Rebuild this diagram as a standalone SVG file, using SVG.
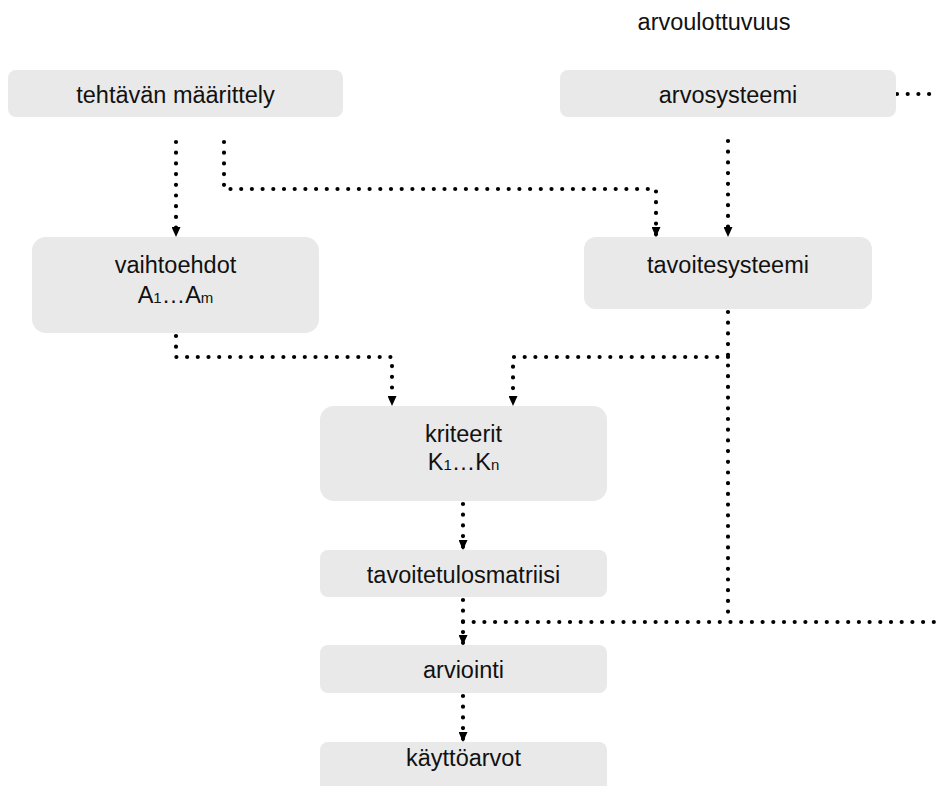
<svg xmlns="http://www.w3.org/2000/svg" width="939" height="786" viewBox="0 0 939 786">
  <defs>
    <marker id="arrow" viewBox="0 0 10 9" refX="10" refY="4.5" markerWidth="10" markerHeight="9" markerUnits="userSpaceOnUse" orient="auto">
      <path d="M0,0 L10,4.5 L0,9 z" fill="#000"/>
    </marker>
    <style>
      .box { fill: #e9e9e9; }
      .lbl { font-family: "Liberation Sans", Arial, sans-serif; font-size: 23.5px; fill: #111; text-anchor: middle; }
      .sub { font-size: 15px; }
      .dots { fill: none; stroke: #000; stroke-width: 4.2; stroke-linecap: round; stroke-dasharray: 0 10.7; }
      .arr { marker-end: url(#arrow); }
    </style>
  </defs>
  <rect width="939" height="786" fill="#fff"/>

  <text class="lbl" x="714" y="30">arvoulottuvuus</text>

  <g id="connectors">
    <path class="dots arr" d="M176 142 V237"/>
    <path class="dots arr" d="M224 142 V189 H656 V237"/>
    <path class="dots arr" d="M728 141 V237"/>
    <path class="dots" d="M897 94 H939"/>
    <path class="dots arr" d="M176 336 V357 H392 V406"/>
    <path class="dots" d="M728 312 V622"/>
    <path class="dots arr" d="M728 357 H513 V406"/>
    <path class="dots arr" d="M463 504 V550"/>
    <path class="dots arr" d="M463 600 V645"/>
    <path class="dots" d="M463 622 H939"/>
    <path class="dots arr" d="M463 696 V742"/>
  </g>

  <g id="tehtavan-maarittely">
    <rect class="box" x="8" y="70" width="335" height="47" rx="8"/>
    <text class="lbl" x="175.5" y="103">tehtävän määrittely</text>
  </g>
  <g id="arvosysteemi">
    <rect class="box" x="560" y="70" width="336" height="47" rx="8"/>
    <text class="lbl" x="728" y="103">arvosysteemi</text>
  </g>
  <g id="vaihtoehdot">
    <rect class="box" x="32" y="237" width="287" height="96" rx="14"/>
    <text class="lbl" x="175.5" y="273">vaihtoehdot</text>
    <text class="lbl" x="175.5" y="303">A<tspan class="sub">1</tspan>…A<tspan class="sub">m</tspan></text>
  </g>
  <g id="tavoitesysteemi">
    <rect class="box" x="584" y="237" width="288" height="72" rx="12"/>
    <text class="lbl" x="728" y="273">tavoitesysteemi</text>
  </g>
  <g id="kriteerit">
    <rect class="box" x="320" y="406" width="287" height="95" rx="14"/>
    <text class="lbl" x="463.5" y="442">kriteerit</text>
    <text class="lbl" x="463.5" y="470">K<tspan class="sub">1</tspan>…K<tspan class="sub">n</tspan></text>
  </g>
  <g id="tavoitetulosmatriisi">
    <rect class="box" x="320" y="550" width="287" height="47" rx="8"/>
    <text class="lbl" x="463.5" y="583">tavoitetulosmatriisi</text>
  </g>
  <g id="arviointi">
    <rect class="box" x="320" y="645" width="287" height="48" rx="8"/>
    <text class="lbl" x="463.5" y="678">arviointi</text>
  </g>
  <g id="kayttoarvot">
    <rect class="box" x="320" y="742" width="287" height="52" rx="8"/>
    <text class="lbl" x="463.5" y="766">käyttöarvot</text>
  </g>
</svg>
